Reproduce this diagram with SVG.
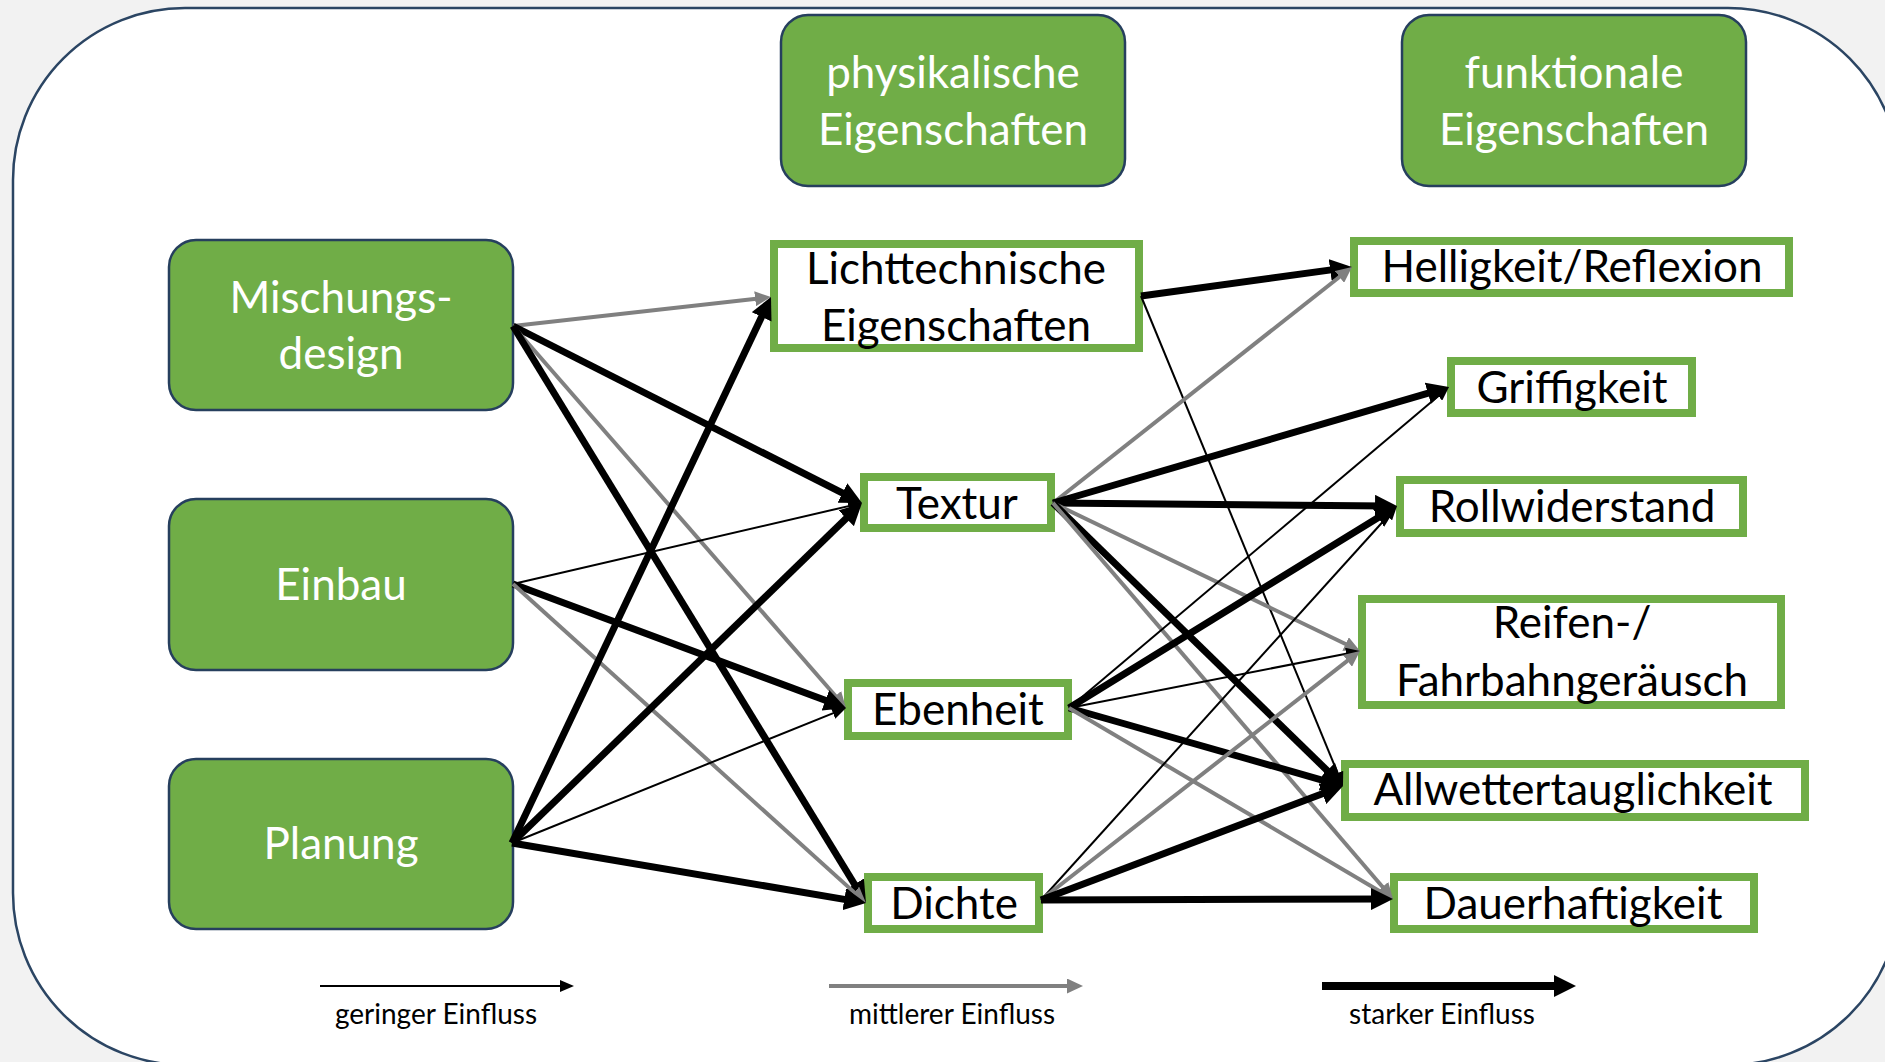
<svg xmlns="http://www.w3.org/2000/svg" width="1885" height="1062" viewBox="0 0 1885 1062">
<style>
.g{fill:#70AD47;stroke:#263F5E;stroke-width:2.5}
.w{fill:#fff;stroke:#70AD47;stroke-width:8}
.tw{font-family:Lato,"Open Sans",sans-serif;font-size:44px;fill:#fff;text-anchor:middle}
.tb{font-family:Lato,"Open Sans",sans-serif;font-size:44px;fill:#000;text-anchor:middle}
.tl{font-family:Lato,"Open Sans",sans-serif;font-size:28px;fill:#000;text-anchor:middle}
.thin{stroke:#000;stroke-width:2;fill:none;marker-end:url(#aThin)}
.mid{stroke:#808080;stroke-width:4;fill:none;marker-end:url(#aMid)}
.thick{stroke:#000;stroke-width:7;fill:none;marker-end:url(#aThick)}
</style>
<defs>
<marker id="aThin" markerUnits="userSpaceOnUse" markerWidth="14" markerHeight="12" refX="9" refY="6" orient="auto"><path d="M0,0 L14,6 L0,12 z" fill="#000"/></marker>
<marker id="aMid" markerUnits="userSpaceOnUse" markerWidth="16" markerHeight="15" refX="8" refY="7.5" orient="auto"><path d="M0,0 L16,7.5 L0,15 z" fill="#808080"/></marker>
<marker id="aThick" markerUnits="userSpaceOnUse" markerWidth="22" markerHeight="22" refX="12" refY="11" orient="auto"><path d="M0,0 L22,11 L0,22 z" fill="#000"/></marker>
</defs>
<rect x="0" y="0" width="1885" height="1062" fill="#F2F2F2"/>
<rect x="13" y="8" width="1887" height="1057" rx="172" fill="#fff" stroke="#2B4563" stroke-width="2.5"/>

<g id="mischungsdesign"><rect class="g" x="169" y="240" width="344" height="170" rx="27"/><text class="tw" x="341" y="313">Mischungs-</text><text class="tw" x="341" y="369">design</text></g>
<g id="einbau"><rect class="g" x="169" y="499" width="344" height="171" rx="27"/><text class="tw" x="341" y="600">Einbau</text></g>
<g id="planung"><rect class="g" x="169" y="759" width="344" height="170" rx="27"/><text class="tw" x="341" y="859">Planung</text></g>

<g id="physikalische"><rect class="g" x="781" y="15" width="344" height="171" rx="27"/><text class="tw" x="953" y="88">physikalische</text><text class="tw" x="953" y="145">Eigenschaften</text></g>
<g id="funktionale"><rect class="g" x="1402" y="15" width="344" height="171" rx="27"/><text class="tw" x="1574" y="88">funktionale</text><text class="tw" x="1574" y="145">Eigenschaften</text></g>

<g id="lichttechnische"><rect class="w" x="774" y="244" width="365" height="104"/><text class="tb" x="956" y="284">Lichttechnische</text><text class="tb" x="956" y="341">Eigenschaften</text></g>
<g id="textur"><rect class="w" x="864" y="477" width="187" height="51"/><text class="tb" x="957" y="519">Textur</text></g>
<g id="ebenheit"><rect class="w" x="848" y="683" width="220" height="53"/><text class="tb" x="958" y="725">Ebenheit</text></g>
<g id="dichte"><rect class="w" x="868" y="877" width="171" height="52"/><text class="tb" x="954" y="919">Dichte</text></g>

<g id="helligkeit"><rect class="w" x="1354" y="241" width="435" height="52"/><text class="tb" x="1572" y="282">Helligkeit/Reflexion</text></g>
<g id="griffigkeit"><rect class="w" x="1451" y="361" width="241" height="52"/><text class="tb" x="1572" y="403">Griffigkeit</text></g>
<g id="rollwiderstand"><rect class="w" x="1400" y="480" width="343" height="53"/><text class="tb" x="1572" y="522">Rollwiderstand</text></g>
<g id="reifen"><rect class="w" x="1362" y="599" width="419" height="106"/><text class="tb" x="1572" y="638">Reifen-/</text><text class="tb" x="1572" y="696">Fahrbahngeräusch</text></g>
<g id="allwetter"><rect class="w" x="1345" y="764" width="460" height="53"/><text class="tb" x="1573" y="805">Allwettertauglichkeit</text></g>
<g id="dauerhaftigkeit"><rect class="w" x="1394" y="877" width="360" height="52"/><text class="tb" x="1573" y="919">Dauerhaftigkeit</text></g>

<g id="connectors">
<line class="mid" x1="513" y1="326" x2="763.05" y2="297.89"/>
<line class="thick" x1="513" y1="326" x2="853.08" y2="498.48"/>
<line class="mid" x1="513" y1="326" x2="840.74" y2="701.97"/>
<line class="thick" x1="513" y1="326" x2="860.78" y2="894.47"/>
<line class="thin" x1="513" y1="584" x2="857.13" y2="504.13"/>
<line class="thick" x1="513" y1="584" x2="836.63" y2="704.51"/>
<line class="mid" x1="513" y1="584" x2="860.06" y2="897.64"/>
<line class="thick" x1="512" y1="843" x2="766.71" y2="306.04"/>
<line class="thick" x1="512" y1="843" x2="854.83" y2="509.97"/>
<line class="thin" x1="512" y1="843" x2="841.36" y2="709.87"/>
<line class="thick" x1="512" y1="843" x2="856.14" y2="901.33"/>
<line class="thick" x1="1141" y1="296" x2="1342.09" y2="268.36"/>
<line class="thin" x1="1141" y1="296" x2="1341.09" y2="781.38"/>
<line class="mid" x1="1053" y1="503" x2="1345.72" y2="271.96"/>
<line class="thick" x1="1053" y1="503" x2="1439.40" y2="389.81"/>
<line class="thick" x1="1053" y1="503" x2="1387" y2="505.91"/>
<line class="mid" x1="1053" y1="503" x2="1352.79" y2="647.53"/>
<line class="thick" x1="1053" y1="503" x2="1335.84" y2="779.02"/>
<line class="mid" x1="1053" y1="503" x2="1387.79" y2="892.93"/>
<line class="thin" x1="1069" y1="708" x2="1445.18" y2="390.23"/>
<line class="thick" x1="1069" y1="708" x2="1388.48" y2="511.24"/>
<line class="thin" x1="1069" y1="708" x2="1355.09" y2="651.96"/>
<line class="thick" x1="1069" y1="708" x2="1333.38" y2="783.26"/>
<line class="mid" x1="1069" y1="708" x2="1386.11" y2="894.94"/>
<line class="thin" x1="1041" y1="900" x2="1393.65" y2="509.71"/>
<line class="mid" x1="1041" y1="900" x2="1353.69" y2="655.92"/>
<line class="thick" x1="1041" y1="900" x2="1333.64" y2="789.53"/>
<line class="thick" x1="1041" y1="900" x2="1383" y2="899.03"/>
</g>

<g id="legend">
<line class="thin" x1="320" y1="986" x2="569" y2="986"/>
<text class="tl" x="436" y="1024">geringer Einfluss</text>
<line class="mid" x1="829" y1="986" x2="1075" y2="986"/>
<text class="tl" x="952" y="1024">mittlerer Einfluss</text>
<line class="thick" style="stroke-width:8" x1="1322" y1="986" x2="1566" y2="986"/>
<text class="tl" x="1442" y="1024">starker Einfluss</text>
</g>
</svg>
